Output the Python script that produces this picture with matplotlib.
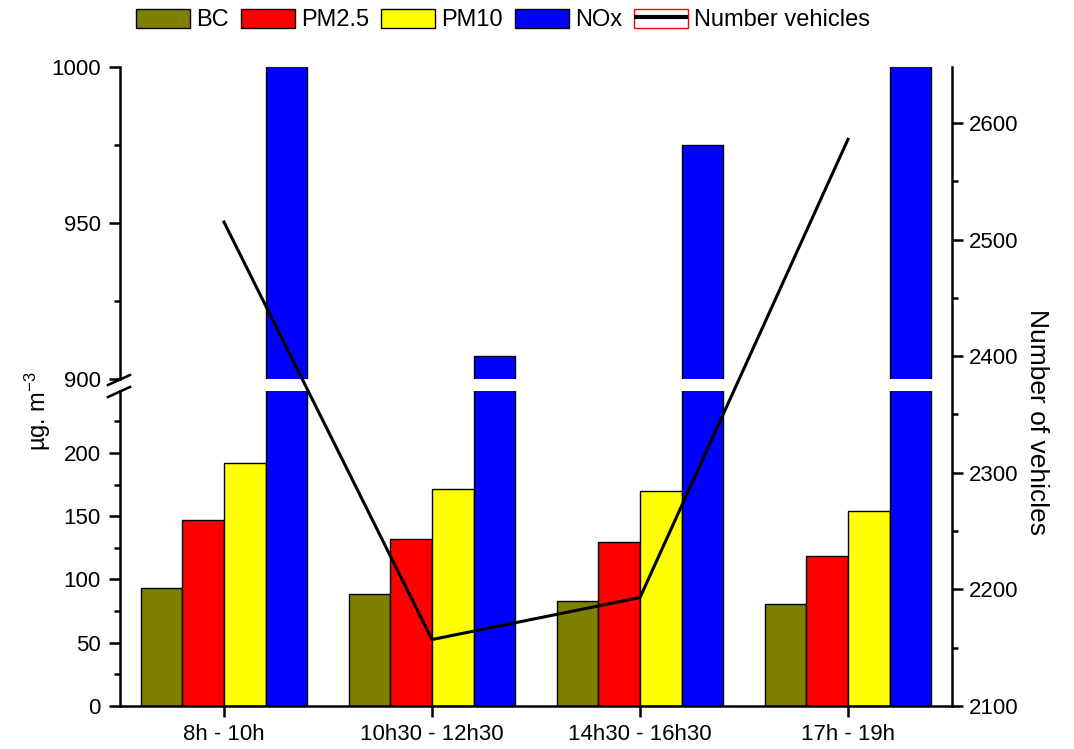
import numpy as np
import matplotlib
matplotlib.use('Agg')
from matplotlib import pyplot as plt
from matplotlib.patches import Patch
from matplotlib.lines import Line2D
from matplotlib.legend_handler import HandlerTuple
from matplotlib.ticker import MultipleLocator

plt.rcParams['font.family'] = ['Liberation Sans', 'DejaVu Sans']
plt.rcParams['mathtext.fontset'] = 'custom'
plt.rcParams['mathtext.rm'] = 'Liberation Sans'
plt.rcParams['mathtext.it'] = 'Liberation Sans'

periods = ['8h - 10h', '10h30 - 12h30', '14h30 - 16h30', '17h - 19h']
bc = [93, 88.5, 83, 80.5]
pm25 = [147, 132, 129.5, 118.5]
pm10 = [192, 171.5, 170, 154]
nox = [1020, 907.5, 975, 1030]
vehicles = [2515, 2157, 2193, 2586]

series = [('BC', bc, '#808000'), ('PM2.5', pm25, '#ff0000'),
          ('PM10', pm10, '#ffff00'), ('NOx', nox, '#0000ff')]

fig = plt.figure(figsize=(10.74, 7.49), dpi=100)
L, W = 120 / 1074, 832 / 1074
ax_up = fig.add_axes([L, 1 - 379 / 749, W, 312 / 749])
ax_lo = fig.add_axes([L, 1 - 706 / 749, W, 315 / 749])
ax_r = fig.add_axes([L, 1 - 706 / 749, W, 639 / 749], facecolor='none')

x = np.arange(len(periods))
bw = 0.2
for i, (name, vals, col) in enumerate(series):
    off = (i - 1.5) * bw
    for ax in (ax_up, ax_lo):
        ax.bar(x + off, vals, bw, color=col, edgecolor='black', linewidth=1)

ax_lo.set_ylim(0, 249)
ax_up.set_ylim(900, 1000)
for ax in (ax_up, ax_lo):
    ax.set_xlim(-0.5, 3.5)
    ax.spines['top'].set_visible(False)
    ax.spines['right'].set_visible(False)
    ax.spines['left'].set_linewidth(1.8)
    ax.tick_params(axis='y', direction='out', length=8, width=1.8, labelsize=16, pad=6)
    ax.tick_params(axis='y', which='minor', direction='out', length=4, width=1.8)
    ax.yaxis.set_major_locator(MultipleLocator(50))
    ax.yaxis.set_minor_locator(MultipleLocator(25))

ax_up.spines['bottom'].set_visible(False)
ax_up.set_xticks([])
ax_lo.spines['bottom'].set_linewidth(1.8)
ax_lo.set_yticks([0, 50, 100, 150, 200])
ax_lo.set_xticks(x)
ax_lo.set_xticklabels(periods, fontsize=16)
ax_lo.tick_params(axis='x', direction='out', length=8, width=1.8, pad=5)

# right axis with vehicle counts
ax_r.plot(x, vehicles, color='black', linewidth=2.2)
ax_r.set_xlim(-0.5, 3.5)
ax_r.set_ylim(2100, 2648)
ax_r.set_xticks([])
for s in ('top', 'left', 'bottom'):
    ax_r.spines[s].set_visible(False)
ax_r.spines['right'].set_linewidth(1.8)
ax_r.yaxis.tick_right()
ax_r.yaxis.set_major_locator(MultipleLocator(100))
ax_r.yaxis.set_minor_locator(MultipleLocator(50))
ax_r.tick_params(axis='y', direction='out', length=8, width=1.8, labelsize=16, pad=4)
ax_r.tick_params(axis='y', which='minor', direction='out', length=4, width=1.8)

# break marks on the left spine
for yy in (380, 392):
    fig.add_artist(Line2D([108 / 1074, 130 / 1074],
                          [1 - (yy + 5) / 749, 1 - (yy - 5) / 749],
                          color='black', linewidth=1.8))

fig.text(38 / 1074, 1 - 411 / 749, 'µg. m$^{-3}$', rotation=90,
         ha='center', va='center', fontsize=17)
fig.text(1037 / 1074, 1 - 422 / 749, 'Number of vehicles', rotation=270,
         ha='center', va='center', fontsize=19)

handles = [Patch(facecolor=c, edgecolor='black') for _, _, c in series]
handles.append((Patch(facecolor='white', edgecolor='red'),
                Line2D([], [], color='black', linewidth=3, solid_capstyle='butt')))
labels = [n for n, _, _ in series] + ['Number vehicles']
fig.legend(handles, labels, loc='center', bbox_to_anchor=(503 / 1074, 1 - 20 / 749),
           ncol=5, frameon=False, fontsize=17, handlelength=2.3, handleheight=0.9,
           handletextpad=0.25, columnspacing=0.5,
           handler_map={tuple: HandlerTuple(ndivide=1, pad=0)})

fig.savefig('out.png', dpi=100)
